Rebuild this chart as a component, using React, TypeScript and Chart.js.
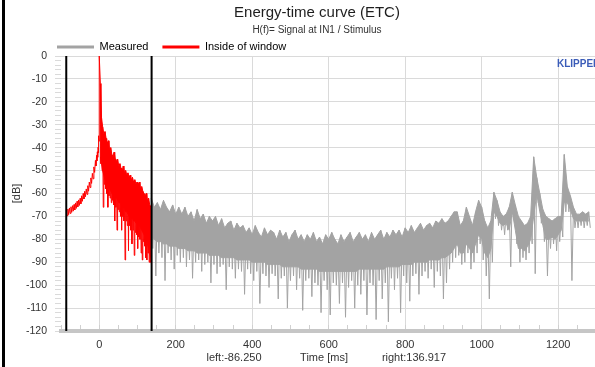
import React, { useEffect, useRef } from 'react';
import { Chart, registerables } from 'chart.js';

Chart.register(...registerables);

const FONT = '"Liberation Sans", Arial, Helvetica, sans-serif';

// ---- axes ----
const xMin = -100;
const xMax = 1380;
const yMin = -120;
const yMax = 0;
const xMajorStep = 200;
const xMinorStep = 50;
const yMajorStep = 10;
const yMinorStep = 2;

// ---- window markers ----
const windowLeft = -86.25;
const windowRight = 136.917;

// ---- "Inside of window" : pre-ringing (ms, dB upper / lower) ----
const preTimes = [-86, -82, -78, -74, -70, -66, -62, -58, -54, -50, -46, -42, -38, -34, -30, -26, -22, -18, -14, -10, -7, -5, -3, -2, -1];
const preHi = [-67.3, -66.8, -66.3, -65.8, -65.3, -64.8, -64.1, -63.4, -62.8, -62.1, -61.0, -60.0, -59.0, -58.0, -56.6, -55.0, -53.2, -51.2, -48.4, -45.6, -43.4, -41.8, -39.8, -38.4, -34.8];
const preLo = [-69.7, -69.2, -68.7, -68.2, -67.7, -67.2, -66.5, -65.8, -65.2, -64.5, -63.4, -62.4, -61.4, -60.4, -59.0, -57.4, -55.6, -53.6, -50.8, -48.0, -45.8, -44.2, -42.2, -40.8, -37.2];

// ---- impulse peak ----
const peakTime = 0;
const peakValue = 0;

// ---- "Inside of window" : decay after the peak (3 ms steps) ----
const postStart = 3;
const postStep = 3;
const postHi = [
  -12, -27, -31, -34, -33, -36, -38, -37, -41, -40,
  -43, -44, -42, -45, -46, -45, -48, -47, -49, -50,
  -48, -51, -50, -52, -51, -53, -52, -54, -53, -55,
  -54, -56, -55, -56, -55, -58, -57, -59, -60, -61,
  -60, -63, -62, -65, -66,
];
// bottom of the dense part
const postCore = [
  -44, -47, -50, -52, -54, -55, -56, -57, -58, -59,
  -60, -60, -61, -62, -62, -63, -64, -64, -65, -66,
  -66, -67, -68, -68, -69, -70, -70, -71, -71, -72,
  -72, -73, -73, -74, -74, -75, -76, -77, -78, -79,
  -80, -82, -84, -86, -88,
];
// tips of the downward spikes
const postLo = [
  -47, -50, -66, -56, -58, -60, -66, -61, -62, -64,
  -63, -65, -72, -66, -76, -67, -68, -70, -76, -70,
  -72, -89, -72, -74, -85, -74, -76, -82, -76, -87,
  -77, -78, -84, -79, -80, -86, -89, -81, -83, -88,
  -89, -86, -90, -90, -91,
];

// ---- "Measured" beyond the window (8 ms steps) ----
const measStart = 136;
const measStep = 8;
const measHi = [
  -62, -66, -64, -67, -63, -66, -68, -65, -69, -66,
  -69, -66, -70, -68, -72, -67, -71, -69, -73, -70,
  -72, -70, -74, -71, -75, -73, -72, -76, -73, -75,
  -74, -77, -75, -78, -74, -77, -79, -75, -78, -76,
  -77, -80, -76, -79, -77, -81, -78, -76, -80, -78,
  -81, -78, -80, -77, -81, -79, -82, -78, -80, -77,
  -80, -82, -78, -81, -79, -77, -81, -79, -77, -80,
  -78, -81, -77, -80, -78, -76, -80, -77, -79, -76,
  -78, -76, -79, -75, -77, -74, -77, -75, -73, -76,
  -74, -73, -75, -72, -73, -71, -73, -72, -70, -68,
  -68, -74, -72, -66, -70, -74, -68, -63, -66, -72,
  -75, -72, -59.5, -63, -68, -70, -69, -66, -59.5, -65,
  -70, -72, -74, -73, -70, -44, -53, -60, -67, -70,
  -71, -72, -71, -70, -70, -43, -57, -61, -66, -69,
  -69, -68, -69, -68,
];
const measCore = [
  -79, -80, -81, -81, -82, -82, -83, -83, -83, -84,
  -84, -84, -85, -85, -85, -86, -86, -86, -86, -87,
  -87, -87, -87, -88, -88, -88, -88, -88, -89, -89,
  -89, -89, -89, -90, -90, -90, -90, -90, -91, -91,
  -91, -91, -91, -92, -92, -92, -92, -92, -92, -93,
  -93, -93, -93, -93, -93, -94, -94, -94, -94, -94,
  -94, -94, -94, -94, -94, -94, -94, -94, -93, -93,
  -93, -93, -93, -93, -93, -93, -93, -92, -92, -92,
  -92, -92, -91, -91, -91, -91, -90, -90, -90, -90,
  -90, -89, -89, -89, -89, -88, -88, -87, -86, -84,
  -82, -86, -86, -82, -84, -86, -82, -78, -80, -86,
  -88, -84, -68, -70, -73, -74, -73, -76, -68, -76,
  -84, -84, -85, -83, -80, -70, -60, -68, -74, -80,
  -80, -79, -80, -78, -76, -64, -64, -67, -71, -72,
  -72, -72, -72, -72,
];
const measLo = [
  -84, -96, -86, -88, -98, -86, -89, -93, -87, -90,
  -88, -92, -89, -97, -90, -89, -94, -91, -90, -99,
  -91, -95, -92, -91, -102, -92, -93, -97, -93, -94,
  -104, -93, -95, -98, -94, -108, -95, -96, -101, -95,
  -96, -106, -97, -96, -110, -98, -96, -102, -97, -111,
  -98, -97, -105, -99, -100, -112, -98, -102, -113, -99,
  -100, -108, -99, -114, -101, -98, -110, -100, -104, -98,
  -113, -99, -100, -115, -98, -106, -99, -116, -97, -102,
  -97, -112, -96, -99, -107, -96, -95, -104, -96, -94,
  -97, -93, -101, -94, -96, -106, -99, -93, -90, -88,
  -87, -91, -90, -86, -93, -90, -86, -82, -89, -96,
  -106, -90, -71, -74, -76, -78, -76, -92, -71, -82,
  -90, -88, -89, -86, -82, -95, -64, -73, -81, -96,
  -84, -82, -85, -81, -79, -68, -68, -98, -75, -75,
  -74, -75, -74, -75,
];

// ---- texts ----
const chartTitle = 'Energy-time curve (ETC)';
const chartSubtitle = 'H(f)= Signal at IN1 / Stimulus';
const seriesNames = ['Measured', 'Inside of window'];
const xAxisTitle = 'Time [ms]';
const yAxisTitle = '[dB]';
const brandText = 'KLIPPEL';

const GRAY = '#a3a3a3';
const RED = '#ff0000';

type Pt = { x: number; y: number };

function zigzagIrregular(times: number[], hi: number[], lo: number[]): Pt[] {
  const pts: Pt[] = [];
  for (let i = 0; i < times.length; i++) {
    pts.push({ x: times[i], y: hi[i] });
    const next = i + 1 < times.length ? times[i + 1] : times[i] + 1;
    pts.push({ x: (times[i] + next) / 2, y: lo[i] });
  }
  return pts;
}

function zigzagRegular(start: number, step: number, hi: number[], lo: number[]): Pt[] {
  const pts: Pt[] = [];
  for (let i = 0; i < hi.length; i++) {
    const t = start + i * step;
    pts.push({ x: t, y: hi[i] });
    pts.push({ x: t + step / 2, y: lo[i] });
  }
  return pts;
}

function series(start: number, step: number, values: number[]): Pt[] {
  return values.map((v, i) => ({ x: start + i * step, y: v }));
}

const overlayPlugin = {
  id: 'overlayTexts',
  beforeDraw(chart: any) {
    const lg = chart.legend;
    if (lg) {
      lg.left = 43;
      lg.top = 27.5;
      lg.bottom = 27.5 + 40;
    }
  },
  afterDraw(chart: any) {
    const ctx = chart.ctx as CanvasRenderingContext2D;
    ctx.save();
    ctx.fillStyle = '#333333';
    ctx.font = `11px ${FONT}`;
    ctx.textAlign = 'center';
    ctx.textBaseline = 'middle';
    ctx.fillText(`left:${windowLeft.toFixed(3)}`, 234, 358);
    ctx.fillText(xAxisTitle, 324, 358);
    ctx.fillText(`right:${windowRight.toFixed(3)}`, 414, 358);
    ctx.font = `bold 10px ${FONT}`;
    ctx.fillStyle = '#3b5cb8';
    ctx.textAlign = 'left';
    ctx.fillText(brandText, 557, 64);
    ctx.restore();
  },
};

const PAD_LEFT = 4;
const PAD_BOTTOM = 0;

export default function App() {
  const canvasRef = useRef<HTMLCanvasElement | null>(null);

  useEffect(() => {
    if (!canvasRef.current) return;
    const redData: Pt[] = [
      ...zigzagIrregular(preTimes, preHi, preLo),
      { x: peakTime, y: peakValue },
      ...zigzagRegular(postStart, postStep, postHi, postLo),
    ];
    const grayData = zigzagRegular(measStart, measStep, measHi, measLo);

    const lineBase = { pointRadius: 0, tension: 0 };

    const chart = new Chart(canvasRef.current, {
      type: 'line',
      data: {
        datasets: [
          { ...lineBase, label: seriesNames[0], data: grayData, borderColor: GRAY, backgroundColor: GRAY, borderWidth: 1, order: 3 },
          { ...lineBase, label: seriesNames[1], data: redData, borderColor: RED, backgroundColor: RED, borderWidth: 1, order: 2 },
          {
            ...lineBase,
            label: 'windowLeft',
            data: [{ x: windowLeft, y: yMax }, { x: windowLeft, y: yMin }],
            borderColor: '#000000',
            borderWidth: 2,
            order: 1,
          },
          {
            ...lineBase,
            label: 'windowRight',
            data: [{ x: windowRight, y: yMax }, { x: windowRight, y: yMin }],
            borderColor: '#000000',
            borderWidth: 2,
            order: 1,
          },
          {
            ...lineBase,
            label: 'measuredBandTop',
            data: series(measStart, measStep, measHi),
            borderColor: GRAY,
            backgroundColor: GRAY,
            borderWidth: 1,
            fill: 5,
            order: 3,
          },
          {
            ...lineBase,
            label: 'measuredBandBottom',
            data: series(measStart, measStep, measCore),
            borderColor: GRAY,
            borderWidth: 1,
            order: 3,
          },
          {
            ...lineBase,
            label: 'windowBandTop',
            data: series(postStart, postStep, postHi),
            borderColor: RED,
            backgroundColor: RED,
            borderWidth: 1,
            fill: 7,
            order: 2,
          },
          {
            ...lineBase,
            label: 'windowBandBottom',
            data: series(postStart, postStep, postCore),
            borderColor: RED,
            borderWidth: 1,
            order: 2,
          },
        ],
      },
      options: {
        animation: false,
        responsive: false,
        events: [],
        layout: { padding: { left: PAD_LEFT, right: 10, top: 0, bottom: PAD_BOTTOM } },
        scales: {
          x: {
            type: 'linear',
            min: xMin,
            max: xMax,
            afterFit: (s: any) => {
              s.height = 367 - 331 - PAD_BOTTOM;
            },
            ticks: {
              stepSize: xMinorStep,
              autoSkip: false,
              maxRotation: 0,
              padding: 13,
              color: '#333333',
              font: { size: 11, family: FONT },
              callback: (v: any) => (Number(v) % xMajorStep === 0 ? String(v) : ''),
            },
            grid: {
              color: (c: any) => (c.tick && c.tick.value % xMajorStep === 0 ? '#dadada' : 'rgba(0,0,0,0)'),
              tickColor: '#d0d0d0',
              tickLength: -6,
              lineWidth: 1,
            },
            border: { display: true, color: '#c6c6c6', width: 4 },
          },
          y: {
            type: 'linear',
            min: yMin,
            max: yMax,
            afterFit: (s: any) => {
              s.width = 61 - PAD_LEFT;
            },
            ticks: {
              stepSize: yMinorStep,
              autoSkip: false,
              padding: 8,
              color: '#333333',
              font: { size: 10.5, family: FONT },
              callback: (v: any) => (Number(v) % yMajorStep === 0 ? String(v) : ''),
            },
            grid: {
              color: (c: any) => (c.tick && c.tick.value % yMajorStep === 0 ? '#dadada' : 'rgba(0,0,0,0)'),
              tickColor: '#dadada',
              tickLength: 6,
              lineWidth: 1,
            },
            border: { display: false },
            title: {
              display: true,
              text: yAxisTitle,
              color: '#333333',
              font: { size: 11, family: FONT },
              padding: { top: 6, bottom: 0 },
            },
          },
        },
        plugins: {
          title: {
            display: true,
            text: chartTitle,
            color: '#1e1e1e',
            font: { size: 15, family: FONT, weight: 'normal' },
            padding: { top: 4, bottom: 0 },
          },
          subtitle: {
            display: true,
            text: chartSubtitle,
            color: '#333333',
            font: { size: 10, family: FONT, weight: 'normal' },
            padding: { top: 2.5, bottom: 0 },
          },
          legend: {
            display: true,
            position: 'top',
            align: 'start',
            maxHeight: 19.5,
            labels: {
              boxWidth: 37,
              boxHeight: 3,
              padding: 14,
              color: '#333333',
              font: { size: 11, family: FONT },
              generateLabels: (ch: any) =>
                ch.data.datasets.slice(0, 2).map((ds: any, i: number) => ({
                  text: ds.label,
                  fillStyle: ds.borderColor,
                  strokeStyle: ds.borderColor,
                  lineWidth: 0,
                  hidden: false,
                  datasetIndex: i,
                })),
            },
          },
          tooltip: { enabled: false },
        },
      },
      plugins: [overlayPlugin],
    } as any);

    return () => chart.destroy();
  }, []);

  return (
    <div
      style={{
        position: 'fixed',
        left: 0,
        top: 0,
        width: 595,
        height: 367,
        overflow: 'hidden',
        background: '#ffffff',
      }}
    >
      <canvas ref={canvasRef} width={640} height={367} style={{ display: 'block', width: 640, height: 367 }} />
      <div style={{ position: 'absolute', left: 2, top: 0, width: 3, height: 367, background: '#000000' }} />
    </div>
  );
}
